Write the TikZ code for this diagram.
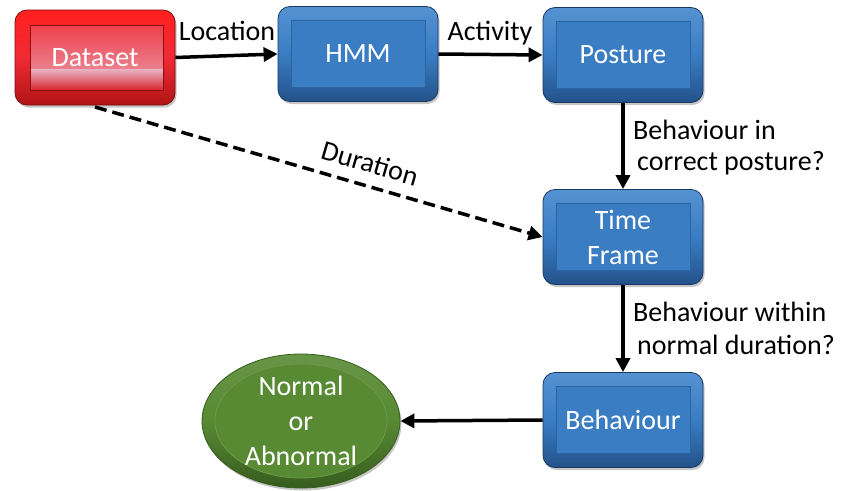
\documentclass[tikz,border=0pt]{standalone}
\usepackage{fontspec}
\setmainfont{Carlito}
\usetikzlibrary{arrows.meta,shapes.geometric,shadows}

\definecolor{blueface}{HTML}{3A7DC3}
\definecolor{bluetop}{HTML}{5592D2}
\definecolor{bluebot}{HTML}{23528A}
\definecolor{blueline}{HTML}{2C64A0}
\definecolor{redtop}{HTML}{FF2020}
\definecolor{redbot}{HTML}{B01414}
\definecolor{redpink}{HTML}{E8B4C4}
\definecolor{redface}{HTML}{F02A34}
\definecolor{greenface}{HTML}{578A33}
\definecolor{greenedge}{HTML}{375C1E}
\definecolor{greenline}{HTML}{6A9A46}

\tikzset{
  lbl/.style={font=\fontsize{28}{33}\selectfont, text=black, inner sep=0pt},
  boxtext/.style={font=\fontsize{28}{35}\selectfont, text=white, align=center},
  bevelbox/.style={rectangle, rounded corners=12pt, minimum width=160pt,
    draw=#1!70!black, line width=0.8pt,
    drop shadow={shadow xshift=1.5pt, shadow yshift=-2.5pt, opacity=0.45}},
  bluebox/.style={bevelbox=bluebot, boxtext, minimum height=95pt,
    top color=bluetop, bottom color=bluebot, middle color=blueface,
    path picture={
      \fill[blueface, sharp corners]
        ([xshift=13pt,yshift=-14pt]path picture bounding box.north west)
        rectangle ([xshift=-13pt,yshift=14pt]path picture bounding box.south east);
      \draw[blueline, line width=0.8pt, sharp corners]
        ([xshift=13pt,yshift=-14pt]path picture bounding box.north west)
        rectangle ([xshift=-13pt,yshift=14pt]path picture bounding box.south east);
    }},
  redbox/.style={bevelbox=redbot, boxtext, minimum height=95pt,
    top color=redtop, bottom color=redbot, middle color=redface,
    path picture={
      \shade[sharp corners, top color=redface, bottom color=redpink]
        ([xshift=15pt,yshift=-15pt]path picture bounding box.north west)
        rectangle ([xshift=-12pt,yshift=36pt]path picture bounding box.south east);
      \shade[sharp corners, top color=redpink, bottom color=redface!90!black]
        ([xshift=15pt,yshift=36pt]path picture bounding box.south west)
        rectangle ([xshift=-12pt,yshift=15pt]path picture bounding box.south east);
      \draw[redbot!80!black, line width=0.6pt, sharp corners]
        ([xshift=15pt,yshift=-15pt]path picture bounding box.north west)
        rectangle ([xshift=-12pt,yshift=15pt]path picture bounding box.south east);
    }},
  greenoval/.style={ellipse, boxtext, minimum width=198pt, minimum height=134pt,
    inner sep=0pt, draw=greenedge, line width=0.8pt,
    top color=greenface!90!white, bottom color=greenedge, middle color=greenface,
    drop shadow={shadow xshift=1.5pt, shadow yshift=-2.5pt, opacity=0.45},
    path picture={
      \fill[greenface] (path picture bounding box.center) ellipse (86pt and 57pt);
      \draw[greenline, line width=0.8pt] (path picture bounding box.center) ellipse (86pt and 57pt);
    }},
  flow/.style={line width=3.5pt, -{Triangle[length=14pt,width=14pt]}},
  dashflow/.style={flow, dash pattern=on 12pt off 6pt}
}

\begin{document}
\begin{tikzpicture}[x=1pt, y=-1pt]
  \useasboundingbox (0,0) rectangle (843,490);

  % process boxes
  \node[redbox]  (data) at (95,57.5)  {\raisebox{-3pt}{Dataset}};
  \node[bluebox] (hmm)  at (358,54)   {HMM};
  \node[bluebox] (post) at (623,55)   {Posture};
  \node[bluebox] (time) at (623,237)  {Time\\Frame};
  \node[bluebox] (beh)  at (623,420)  {Behaviour};
  \node[greenoval] (res) at (301,421) {Normal\\or\\Abnormal};

  % connectors
  \draw[flow] (data.east) -- (hmm.west);
  \draw[flow] (hmm.east) -- (post.west);
  \draw[flow] (post.south) -- (time.north);
  \draw[flow] (time.south) -- (beh.north);
  \draw[flow] (beh.west) -- (res.east);
  \coordinate (dstart) at (95,107);
  \draw[dashflow] (dstart) -- (time.west);

  % connector labels
  \node[lbl] (lloc) at (227,31) {Location};
  \node[lbl] (lact) at (490,33) {Activity};
  \node[lbl, anchor=west] (lpos1) at (633,130) {Behaviour in};
  \node[lbl, anchor=west] (lpos2) at (637,163) {correct posture?};
  \node[lbl, anchor=west] (ldur1) at (633,312) {Behaviour within};
  \node[lbl, anchor=west] (ldur2) at (637,345) {normal duration?};
  \node[lbl, rotate=-16.3] (ldur) at (370,163) {Duration};
\end{tikzpicture}
\end{document}
